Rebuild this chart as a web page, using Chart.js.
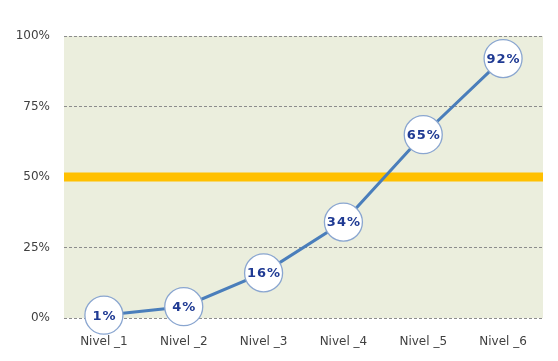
<!DOCTYPE html>
<html>
<head>
<meta charset="utf-8">
<script src="https://cdn.jsdelivr.net/npm/chart.js@4.4.0/dist/chart.umd.min.js"></script>
<style>
  html, body { margin: 0; padding: 0; background: #fff; }
  #wrap { width: 558px; height: 361px; }
</style>
</head>
<body>
<div id="wrap"><canvas id="myChart" width="558" height="361"></canvas></div>
<script>
// categories and values
const niveles = ['Nivel _1', 'Nivel _2', 'Nivel _3', 'Nivel _4', 'Nivel _5', 'Nivel _6'];
const porcentajes = [1, 4, 16, 34, 65, 92];
const yTicks = [0, 25, 50, 75, 100];
const meta = 50; // orange target line

// plot background + target band
const fondo = {
  id: 'fondo',
  beforeDatasetsDraw(chart) {
    const { ctx, chartArea: a, scales } = chart;
    ctx.save();
    const y = scales.y.getPixelForValue(meta);
    ctx.fillStyle = '#FFC000';
    ctx.fillRect(a.left, y - 4.5, a.right - a.left, 9);
    ctx.restore();
  },
  beforeDraw(chart) {
    const { ctx, chartArea: a } = chart;
    ctx.save();
    ctx.fillStyle = '#EBEEDD';
    ctx.fillRect(a.left, a.top, a.right - a.left, a.bottom - a.top);
    ctx.restore();
  }
};

// percentage text inside each point
const etiquetas = {
  id: 'etiquetas',
  afterDatasetsDraw(chart) {
    const { ctx } = chart;
    const pts = chart.getDatasetMeta(0).data;
    ctx.save();
    ctx.font = 'bold 13px "DejaVu Sans"';
    ctx.letterSpacing = '1px';
    ctx.fillStyle = '#1F3A93';
    ctx.textAlign = 'center';
    ctx.textBaseline = 'middle';
    pts.forEach((p, i) => {
      ctx.fillText(porcentajes[i] + '%', p.x + 0.5, p.y + 1);
    });
    ctx.restore();
  }
};

const config = {
  type: 'line',
  data: {
    labels: niveles,
    datasets: [{
      data: porcentajes,
      clip: false,
      borderColor: '#4A7EBB',
      borderWidth: 3,
      pointRadius: 19,
      pointHoverRadius: 19,
      pointBackgroundColor: '#FFFFFF',
      pointBorderColor: '#8AA6D0',
      pointBorderWidth: 1.3,
      tension: 0
    }]
  },
  options: {
    responsive: false,
    animation: false,
    layout: { autoPadding: false, padding: { top: 36, right: 15, left: 0, bottom: 0 } },
    plugins: {
      legend: { display: false },
      tooltip: { enabled: false }
    },
    scales: {
      x: {
        offset: true,
        grid: { display: false },
        border: { display: false },
        ticks: {
          color: '#404040',
          font: { family: 'DejaVu Sans', size: 12 },
          padding: 9,
          maxRotation: 0
        },
        afterFit(scale) {
          scale.height = 43;
        }
      },
      y: {
        min: 0,
        max: 100,
        afterBuildTicks(scale) { scale.ticks = yTicks.map(v => ({ value: v })); },
        grid: {
          color: ctx => ctx.tick && ctx.tick.value === meta ? 'rgba(0,0,0,0)' : '#8C8C8C',
          lineWidth: 1,
          drawTicks: false
        },
        border: { display: false, dash: [3, 2] },
        ticks: {
          color: '#404040',
          font: { family: 'DejaVu Sans', size: 12 },
          padding: 14,
          callback: v => v + '%'
        },
        afterFit(scale) { scale.width = 64; }
      }
    }
  },
  plugins: [fondo, etiquetas]
};

const myChart = new Chart(document.getElementById('myChart'), config);
</script>
</body>
</html>
